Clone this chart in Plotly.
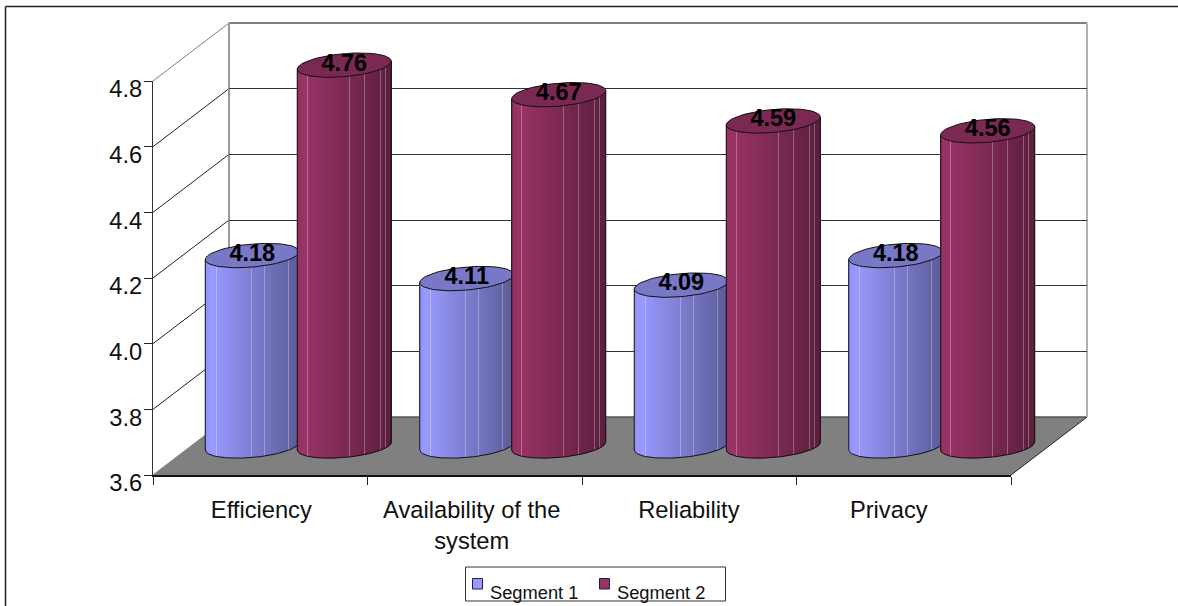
import math
import plotly.graph_objects as go

# Survey scores per service dimension
categories = ["Efficiency", "Availability of the<br>system", "Reliability", "Privacy"]
segment_1 = [4.18, 4.11, 4.09, 4.18]
segment_2 = [4.76, 4.67, 4.59, 4.56]
series_names = ["Segment 1", "Segment 2"]
y_ticks = [3.6, 3.8, 4.0, 4.2, 4.4, 4.6, 4.8]
label_positions = [0.505, 1.486, 2.498, 3.43]

W, H = 1178, 606
FONT = "Liberation Sans"

# Oblique projection of the chart box, in page pixels
FX0, FX1, FY0, FY1 = 153, 1011, 475, 81   # front plane
DX, DY = 76, -58                          # depth offset, front to back
PX_PER_UNIT = (FY0 - FY1) / 1.2
UNIT_PX = (FX1 - FX0) / 4

# Cylinder shape, in axis units
HALF_W = 47 / UNIT_PX
SHIFT = 46 / UNIT_PX
MINOR = 11.5 / PX_PER_UNIT
TILT = 4 / PX_PER_UNIT
STRIPS = 94
LO, HI = 3.5, 4.9


def px(x):
    return x / W


def py(y):
    return 1 - y / H


def front_y(v):
    return FY0 - (v - 3.6) * PX_PER_UNIT


def shade(rgb, t, streak):
    # Horizontal lighting: bright near the left edge, falling off to the right
    k = 0.96 + 0.04 * t / 0.08 if t < 0.08 else 1 - 0.40 * (t - 0.08) / 0.92
    c = [v * k for v in rgb]
    if streak:
        c = [v + (255 - v) * 0.28 for v in c]
    return "rgb(%d,%d,%d)" % tuple(round(v) for v in c)


def cylinders(values, offset, rgb, top_color, streaks, xa, ya):
    xs, heights, bases, colors = [], [], [], []
    for i, v in enumerate(values):
        c = i + 0.5 + offset
        for s in range(STRIPS):
            f = (s + 0.5) / STRIPS
            t = 2 * f - 1
            y_mid = TILT * t
            bottom = 3.6 + y_mid - MINOR * math.sqrt(1 - t * t)
            xs.append(c + HALF_W * t)
            bases.append(bottom)
            heights.append(v + y_mid - bottom)
            colors.append(shade(rgb, f, any(abs(f - q) < 0.5 / STRIPS for q in streaks)))
    traces = [go.Bar(
        x=xs, y=heights, base=bases, width=2 * HALF_W / STRIPS, xaxis=xa, yaxis=ya,
        marker=dict(color=colors, line=dict(width=0)), hoverinfo="skip", showlegend=False,
    )]

    # Silhouette of each body and the elliptical cap on top
    ox, oy, ex, ey = [], [], [], []
    for i, v in enumerate(values):
        c = i + 0.5 + offset
        for k in range(61):
            t = -1 + k / 30
            ox.append(c + HALF_W * t)
            oy.append(3.6 + TILT * t - MINOR * math.sqrt(max(0, 1 - t * t)))
        ox += [c + HALF_W, None, c - HALF_W, c - HALF_W, None]
        oy += [v + TILT, None, v - TILT, 3.6 - TILT, None]
        for k in range(73):
            a = 2 * math.pi * k / 72
            ex.append(c + HALF_W * math.cos(a))
            ey.append(v + TILT * math.cos(a) + MINOR * math.sin(a))
        ex.append(None)
        ey.append(None)
    traces.append(go.Scatter(x=ox, y=oy, mode="lines", line=dict(color="#111", width=1),
                             xaxis=xa, yaxis=ya, showlegend=False, hoverinfo="skip"))
    traces.append(go.Scatter(x=ex, y=ey, mode="lines", fill="toself", fillcolor=top_color,
                             line=dict(color="#111", width=1), xaxis=xa, yaxis=ya,
                             showlegend=False, hoverinfo="skip"))
    traces.append(go.Scatter(
        x=[i + 0.5 + offset for i in range(len(values))],
        y=[v + 0.5 / PX_PER_UNIT for v in values],
        text=["%.2f" % v for v in values], mode="text", textposition="middle center",
        textfont=dict(family=FONT, size=23.5, color="#000000", weight="bold"),
        xaxis=xa, yaxis=ya, showlegend=False, hoverinfo="skip",
    ))
    return traces


fig = go.Figure()

# The wall and front axes carry no marks of their own; empty traces bring them on screen
fig.add_trace(go.Scatter(x=[0], y=[3.6], mode="none", xaxis="x", yaxis="y",
                         showlegend=False, hoverinfo="skip"))
fig.add_traces(cylinders(segment_1, -SHIFT, (153, 153, 255), "#7878c6",
                         [0.12, 0.5, 0.63, 0.89], "x2", "y2"))
fig.add_traces(cylinders(segment_2, SHIFT, (153, 51, 102), "#7a2952",
                         [0.11, 0.555, 0.72, 0.89, 0.945], "x3", "y3"))
fig.add_trace(go.Scatter(x=[0], y=[3.6], mode="none", xaxis="x4", yaxis="y4",
                         showlegend=False, hoverinfo="skip"))

shapes = []
annotations = []


def line(x0, y0, x1, y1, color, width):
    shapes.append(dict(type="line", xref="paper", yref="paper", layer="below",
                       x0=px(x0), y0=py(y0), x1=px(x1), y1=py(y1),
                       line=dict(color=color, width=width)))


# Outer chart border (open at the right and bottom)
line(5.5, H, 5.5, 6.5, "#222222", 1.5)
line(5.5, 6.5, W, 6.5, "#222222", 1.5)

# Floor
shapes.append(dict(
    type="path", xref="paper", yref="paper", layer="below",
    path="M %f,%f L %f,%f L %f,%f L %f,%f Z" % (
        px(FX0), py(FY0), px(FX1), py(FY0), px(FX1 + DX), py(FY0 + DY), px(FX0 + DX), py(FY0 + DY)),
    fillcolor="#808080", line=dict(width=0),
))
line(FX0 + DX, FY0 + DY, FX1 + DX, FY0 + DY, "#555555", 1.5)
line(FX1, FY0, FX1 + DX, FY0 + DY, "#222222", 1)

# Side wall rungs, one per value tick
for v in y_ticks:
    y = front_y(v)
    color = "#808080" if v in (3.6, 4.8) else "#222222"
    line(FX0, y, FX0 + DX, y + DY, color, 1)

# Back wall outline
line(FX0 + DX, FY1 + DY, FX1 + DX, FY1 + DY, "#808080", 2)
line(FX0 + DX, FY1 + DY, FX0 + DX, FY0 + DY, "#999999", 2)
line(FX1 + DX, FY1 + DY, FX1 + DX, FY0 + DY, "#b0b0b0", 2)

# Legend box with offset swatches and captions
shapes.append(dict(type="rect", xref="paper", yref="paper", layer="below",
                   x0=px(465.5), y0=py(567), x1=px(725.5), y1=py(601),
                   fillcolor="white", line=dict(color="#333333", width=1)))
for name, color, sx, tx in zip(series_names, ["#9999ff", "#993366"], [472.5, 599.5], [489, 616]):
    shapes.append(dict(type="rect", xref="paper", yref="paper", layer="below",
                       x0=px(sx), y0=py(578.5), x1=px(sx + 10), y1=py(589),
                       fillcolor=color, line=dict(color="#20204a", width=1)))
    annotations.append(dict(text=name, xref="paper", yref="paper", x=px(tx), y=py(592.5),
                            xanchor="left", yanchor="middle", showarrow=False, borderpad=0,
                            font=dict(family=FONT, size=18.3, color="#111111")))


def plane_axes(dx, dy):
    # Axis domains for a plane shifted back by (dx, dy) pixels; ranges reach past the tick span
    x_dom = [px(FX0 + dx), px(FX1 + dx)]
    y_dom = [py(FY0 + dy + (3.6 - LO) * PX_PER_UNIT), py(FY0 + dy - (HI - 3.6) * PX_PER_UNIT)]
    return x_dom, y_dom


mx, my = plane_axes(DX / 2, DY / 2)
hidden = dict(visible=False, fixedrange=True)

fig.update_layout(
    width=W, height=H, autosize=False, margin=dict(l=0, r=0, t=0, b=0, pad=0, autoexpand=False),
    paper_bgcolor="white", plot_bgcolor="rgba(0,0,0,0)", showlegend=False,
    barmode="overlay", shapes=shapes, annotations=annotations,
    font=dict(family=FONT, color="#000000"),
    # Back wall, with the native gridlines
    xaxis=dict(domain=[px(FX0 + DX), px(FX1 + DX)], range=[0, 4], fixedrange=True, showgrid=False,
               showticklabels=False, ticks="", zeroline=False, showline=False),
    yaxis=dict(domain=[py(FY0 + DY), py(FY1 + DY)], range=[3.6, 4.8], tickvals=y_ticks[1:-1],
               showgrid=True, gridcolor="#333333", gridwidth=1, showticklabels=False, ticks="",
               zeroline=False, showline=False, fixedrange=True),
    # Mid-depth plane holding the cylinders
    xaxis2=dict(domain=mx, range=[0, 4], anchor="y2", **hidden),
    yaxis2=dict(domain=my, range=[LO, HI], anchor="x2", **hidden),
    xaxis3=dict(domain=mx, range=[0, 4], anchor="y3", **hidden),
    yaxis3=dict(domain=my, range=[LO, HI], anchor="x3", **hidden),
    # Front plane with the labelled axes
    xaxis4=dict(domain=[px(FX0), px(FX1)], range=[0, 4], anchor="y4", tickvals=label_positions,
                ticktext=categories, ticks="", ticklabelstandoff=13, showline=True,
                linecolor="#111111", linewidth=2, showgrid=False, zeroline=False, fixedrange=True,
                tickfont=dict(family=FONT, size=23.7, color="#111111"),
                minor=dict(tickvals=[0, 1, 2, 3, 4], ticks="outside", ticklen=8,
                           tickcolor="#222222", tickwidth=1, showgrid=False)),
    yaxis4=dict(domain=[py(FY0), py(FY1)], range=[3.6, 4.8], anchor="x4", tickvals=y_ticks,
                ticktext=["%.1f" % v for v in y_ticks], ticks="outside", ticklen=8,
                tickcolor="#222222", showline=True, linecolor="#333333", linewidth=1,
                showgrid=False, zeroline=False, fixedrange=True, ticklabelshift=8,
                ticklabelstandoff=-3, tickfont=dict(family=FONT, size=23.7, color="#111111")),
)

fig.write_html("out.html", config=dict(displayModeBar=False))
